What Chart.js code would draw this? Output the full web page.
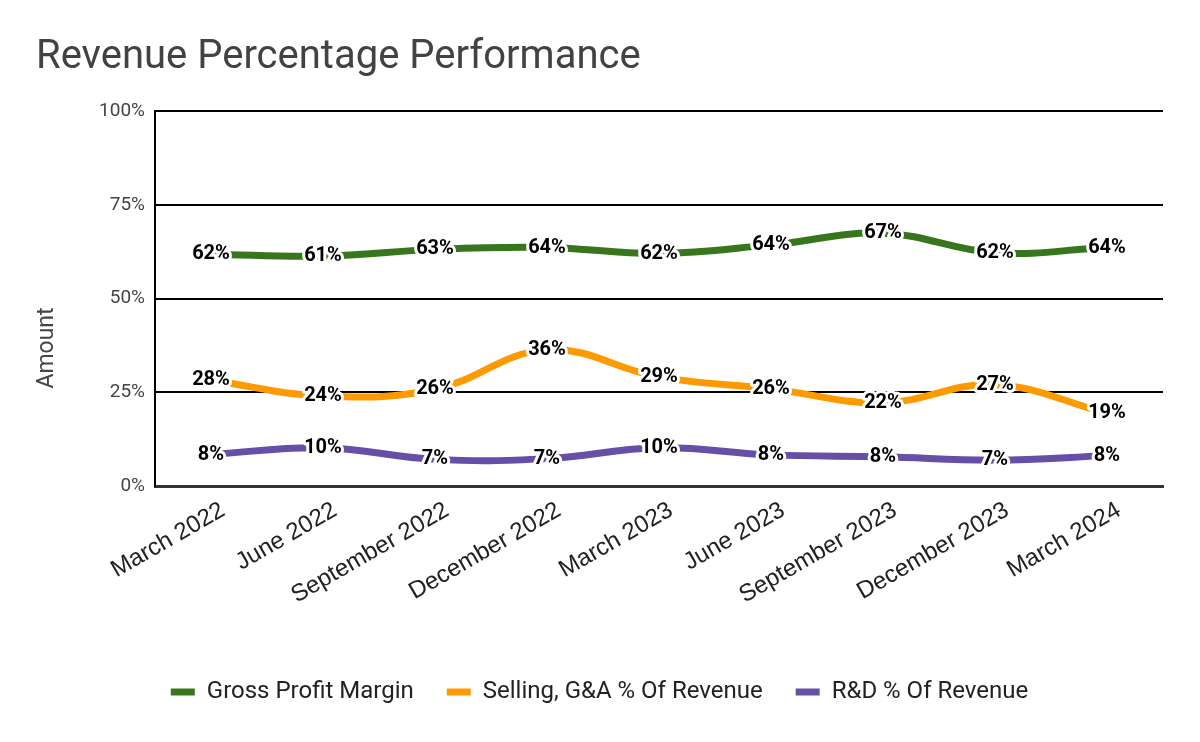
<!DOCTYPE html>
<html>
<head>
<meta charset="utf-8">
<title>Revenue Percentage Performance</title>
<script src="https://cdn.jsdelivr.net/npm/chart.js@4.4.1/dist/chart.umd.min.js"></script>
<style>
    html, body { margin: 0; padding: 0; background: #fff; }
    #wrap { width: 1200px; height: 742px; }
</style>
</head>
<body>
<div id="wrap"><canvas id="revenueChart" width="1200" height="742"></canvas></div>
<script>
// Chart data
const quarters = ['March 2022', 'June 2022', 'September 2022', 'December 2022', 'March 2023',
                  'June 2023', 'September 2023', 'December 2023', 'March 2024'];
const grossProfitMargin = [61.8, 61.3, 63.1, 63.6, 62.0, 64.3, 67.4, 62.2, 63.6];
const sgaPercent = [28.2, 24.0, 25.8, 36.3, 29.1, 25.9, 22.2, 27.0, 19.4];
const rdPercent = [8.4, 10.2, 7.1, 7.3, 10.2, 8.3, 7.8, 6.9, 8.1];
const yTicks = [0, 25, 50, 75, 100];

// Point labels drawn on top of the lines with a white halo
const pointLabels = {
    id: 'pointLabels',
    afterDatasetsDraw(chart) {
        const ctx = chart.ctx;
        ctx.save();
        ctx.font = 'bold 20px Roboto';
        ctx.textAlign = 'center';
        ctx.textBaseline = 'middle';
        ctx.lineJoin = 'round';
        chart.data.datasets.forEach((ds, i) => {
            const meta = chart.getDatasetMeta(i);
            meta.data.forEach((pt, j) => {
                const text = Math.round(ds.data[j]) + '%';
                ctx.strokeStyle = '#fff';
                ctx.lineWidth = 6;
                ctx.strokeText(text, pt.x, pt.y);
                ctx.fillStyle = '#000';
                ctx.fillText(text, pt.x, pt.y);
            });
        });
        ctx.restore();
    }
};

// Y axis title, sits a bit lower than the middle like the original
const yAxisTitle = {
    id: 'yAxisTitle',
    afterDraw(chart) {
        const ctx = chart.ctx;
        ctx.save();
        ctx.translate(47, 348);
        ctx.rotate(-Math.PI / 2);
        ctx.font = '23px Roboto';
        ctx.fillStyle = '#444';
        ctx.textAlign = 'center';
        ctx.textBaseline = 'middle';
        ctx.fillText('Amount', 0, 0);
        ctx.restore();
    }
};

const ctx = document.getElementById('revenueChart').getContext('2d');
new Chart(ctx, {
    type: 'line',
    data: {
        labels: quarters,
        datasets: [
            {
                label: 'Gross Profit Margin',
                data: grossProfitMargin,
                borderColor: '#38761d',
                backgroundColor: '#38761d'
            },
            {
                label: 'Selling, G&A % Of Revenue',
                data: sgaPercent,
                borderColor: '#ff9900',
                backgroundColor: '#ff9900'
            },
            {
                label: 'R&D % Of Revenue',
                data: rdPercent,
                borderColor: '#674ea7',
                backgroundColor: '#674ea7'
            }
        ]
    },
    options: {
        responsive: false,
        animation: false,
        events: [],
        layout: {
            padding: { left: 36, right: 37, top: 0, bottom: 28 }
        },
        elements: {
            line: { borderWidth: 7, tension: 0.4 },
            point: { radius: 0 }
        },
        scales: {
            x: {
                offset: true,
                grid: { display: false, drawTicks: false },
                border: { display: true, color: '#333', width: 3 },
                ticks: {
                    minRotation: 30,
                    maxRotation: 30,
                    padding: 10,
                    labelOffset: 12,
                    color: '#222',
                    font: { family: 'Liberation Sans', size: 24 }
                },
                afterFit: scale => { scale.height = 161; }
            },
            y: {
                min: 0,
                max: 100,
                grid: {
                    color: c => c.tick && c.tick.value === 0 ? '#333' : '#000',
                    lineWidth: 2,
                    drawTicks: false
                },
                border: { display: true, color: '#000', width: 2 },
                ticks: {
                    padding: 10,
                    color: '#444',
                    font: { family: 'Roboto', size: 19 },
                    callback: v => v + '%'
                },
                afterBuildTicks: scale => { scale.ticks = yTicks.map(v => ({ value: v })); },
                afterFit: scale => { scale.width = 119; }
            }
        },
        plugins: {
            title: {
                display: true,
                text: 'Revenue Percentage Performance',
                align: 'start',
                color: '#424242',
                font: { family: 'Roboto', size: 40, weight: 'normal' },
                padding: { top: 34, bottom: 29 }
            },
            legend: {
                position: 'bottom',
                labels: {
                    boxWidth: 24,
                    boxHeight: 7,
                    padding: 33,
                    color: '#222',
                    font: { family: 'Roboto', size: 24 },
                    // flat swatches, no thick outline from the line width
                    generateLabels: chart => Chart.defaults.plugins.legend.labels.generateLabels(chart)
                        .map(item => ({ ...item, lineWidth: 0 }))
                }
            },
            tooltip: { enabled: false }
        }
    },
    plugins: [pointLabels, yAxisTitle]
});
</script>
</body>
</html>
